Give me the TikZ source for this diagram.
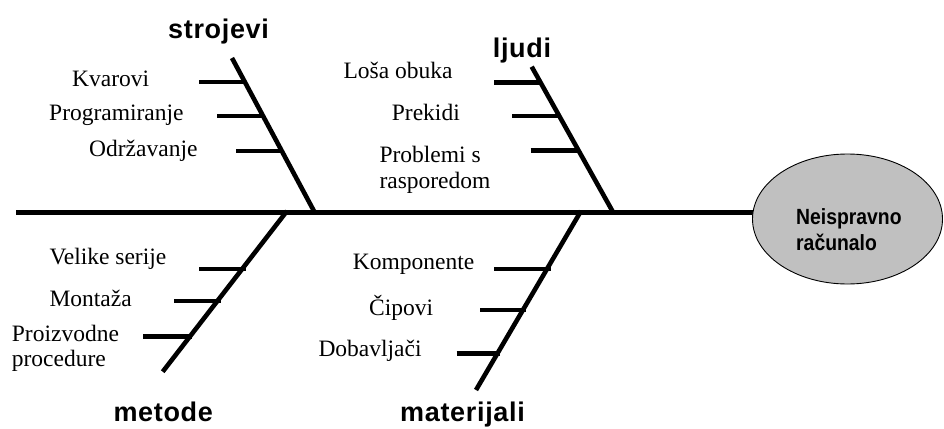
\documentclass[tikz,border=0pt]{standalone}
\usepackage{fontspec}
\setmainfont{Liberation Serif}
\newfontfamily\hd[LetterSpace=2.5]{Liberation Sans}
\newfontfamily\effont[FakeStretch=0.88]{Liberation Sans}
\usetikzlibrary{shapes.geometric}
\tikzset{
  bone/.style={line width=4.6pt, line cap=butt},
  spinestyle/.style={line width=5pt},
  lbl/.style={anchor=base west, inner sep=0pt, font=\fontsize{23.5}{26}\selectfont},
  cat/.style={anchor=base west, inner sep=0pt, font=\hd\bfseries\fontsize{27}{30}\selectfont},
  efftxt/.style={anchor=base west, inner sep=0pt, font=\effont\bfseries\fontsize{22}{26}\selectfont},
  effstyle/.style={draw, line width=0.9pt, fill={rgb,255:red,192;green,192;blue,192}},
}
\begin{document}
\begin{tikzpicture}[x=1pt,y=-1pt]
\useasboundingbox (0,0) rectangle (944,428);
% spine
\coordinate (spL) at (16,212);
\coordinate (spR) at (770,212);
\draw[spinestyle] (spL) -- (spR);
% effect
\coordinate (eff) at (847.5,219);
\draw[effstyle] (eff) ellipse [x radius=95pt, y radius=65pt];
\node[efftxt] (eff1) at (796,224) {Neispravno};
\node[efftxt] (eff2) at (796,250) {računalo};

% strojevi branch
\coordinate (s1) at (232,58);
\coordinate (s2) at (315,213);
\draw[bone] (s1) -- (s2);
\coordinate (s1a) at (199,82); \coordinate (s1b) at (246,82);
\coordinate (s2a) at (217,116); \coordinate (s2b) at (264,116);
\coordinate (s3a) at (236,151); \coordinate (s3b) at (283,151);
\draw[bone] (s1a) -- (s1b);
\draw[bone] (s2a) -- (s2b);
\draw[bone] (s3a) -- (s3b);
\node[cat] (strojevi) at (168,38.3) {strojevi};
\node[lbl] (kvarovi) at (72,86) {Kvarovi};
\node[lbl] (programiranje) at (49,120.7) {Programiranje};
\node[lbl] (odrzavanje) at (89,156.7) {Održavanje};

% ljudi branch
\coordinate (l1) at (531.7,66.7);
\coordinate (l2) at (613.5,213);
\draw[bone] (l1) -- (l2);
\coordinate (l1a) at (494,82.3); \coordinate (l1b) at (541,82.3);
\coordinate (l2a) at (512.3,116); \coordinate (l2b) at (560,116);
\coordinate (l3a) at (530.7,150.3); \coordinate (l3b) at (579,150.3);
\draw[bone] (l1a) -- (l1b);
\draw[bone] (l2a) -- (l2b);
\draw[bone] (l3a) -- (l3b);
\node[cat] (ljudi) at (492.7,57.3) {ljudi};
\node[lbl] (losa) at (343.3,78.3) {Loša obuka};
\node[lbl] (prekidi) at (391.7,120) {Prekidi};
\node[lbl] (problemi1) at (379.3,162.7) {Problemi s};
\node[lbl] (problemi2) at (379.3,188.7) {rasporedom};

% metode branch
\coordinate (m1) at (287,211);
\coordinate (m2) at (162.7,371.7);
\draw[bone] (m1) -- (m2);
\coordinate (m1a) at (199,269); \coordinate (m1b) at (246,269);
\coordinate (m2a) at (174,301); \coordinate (m2b) at (221,301);
\coordinate (m3a) at (143.3,336.7); \coordinate (m3b) at (192,336.7);
\draw[bone] (m1a) -- (m1b);
\draw[bone] (m2a) -- (m2b);
\draw[bone] (m3a) -- (m3b);
\node[cat] (metode) at (113.3,421.7) {metode};
\node[lbl] (velike) at (49.3,264.3) {Velike serije};
\node[lbl] (montaza) at (49.3,306) {Montaža};
\node[lbl] (proizvodne1) at (11.7,341) {Proizvodne};
\node[lbl] (proizvodne2) at (11.7,366.7) {procedure};

% materijali branch
\coordinate (t1) at (581,211);
\coordinate (t2) at (476,390);
\draw[bone] (t1) -- (t2);
\coordinate (t1a) at (494,269); \coordinate (t1b) at (551,269);
\coordinate (t2a) at (480,310); \coordinate (t2b) at (526,310);
\coordinate (t3a) at (456.7,353.3); \coordinate (t3b) at (500,353.3);
\draw[bone] (t1a) -- (t1b);
\draw[bone] (t2a) -- (t2b);
\draw[bone] (t3a) -- (t3b);
\node[cat] (materijali) at (400,421.7) {materijali};
\node[lbl] (komponente) at (352.7,269.3) {Komponente};
\node[lbl] (cipovi) at (369,315) {Čipovi};
\node[lbl] (dobavljaci) at (318.3,356.7) {Dobavljači};
\end{tikzpicture}
\end{document}
